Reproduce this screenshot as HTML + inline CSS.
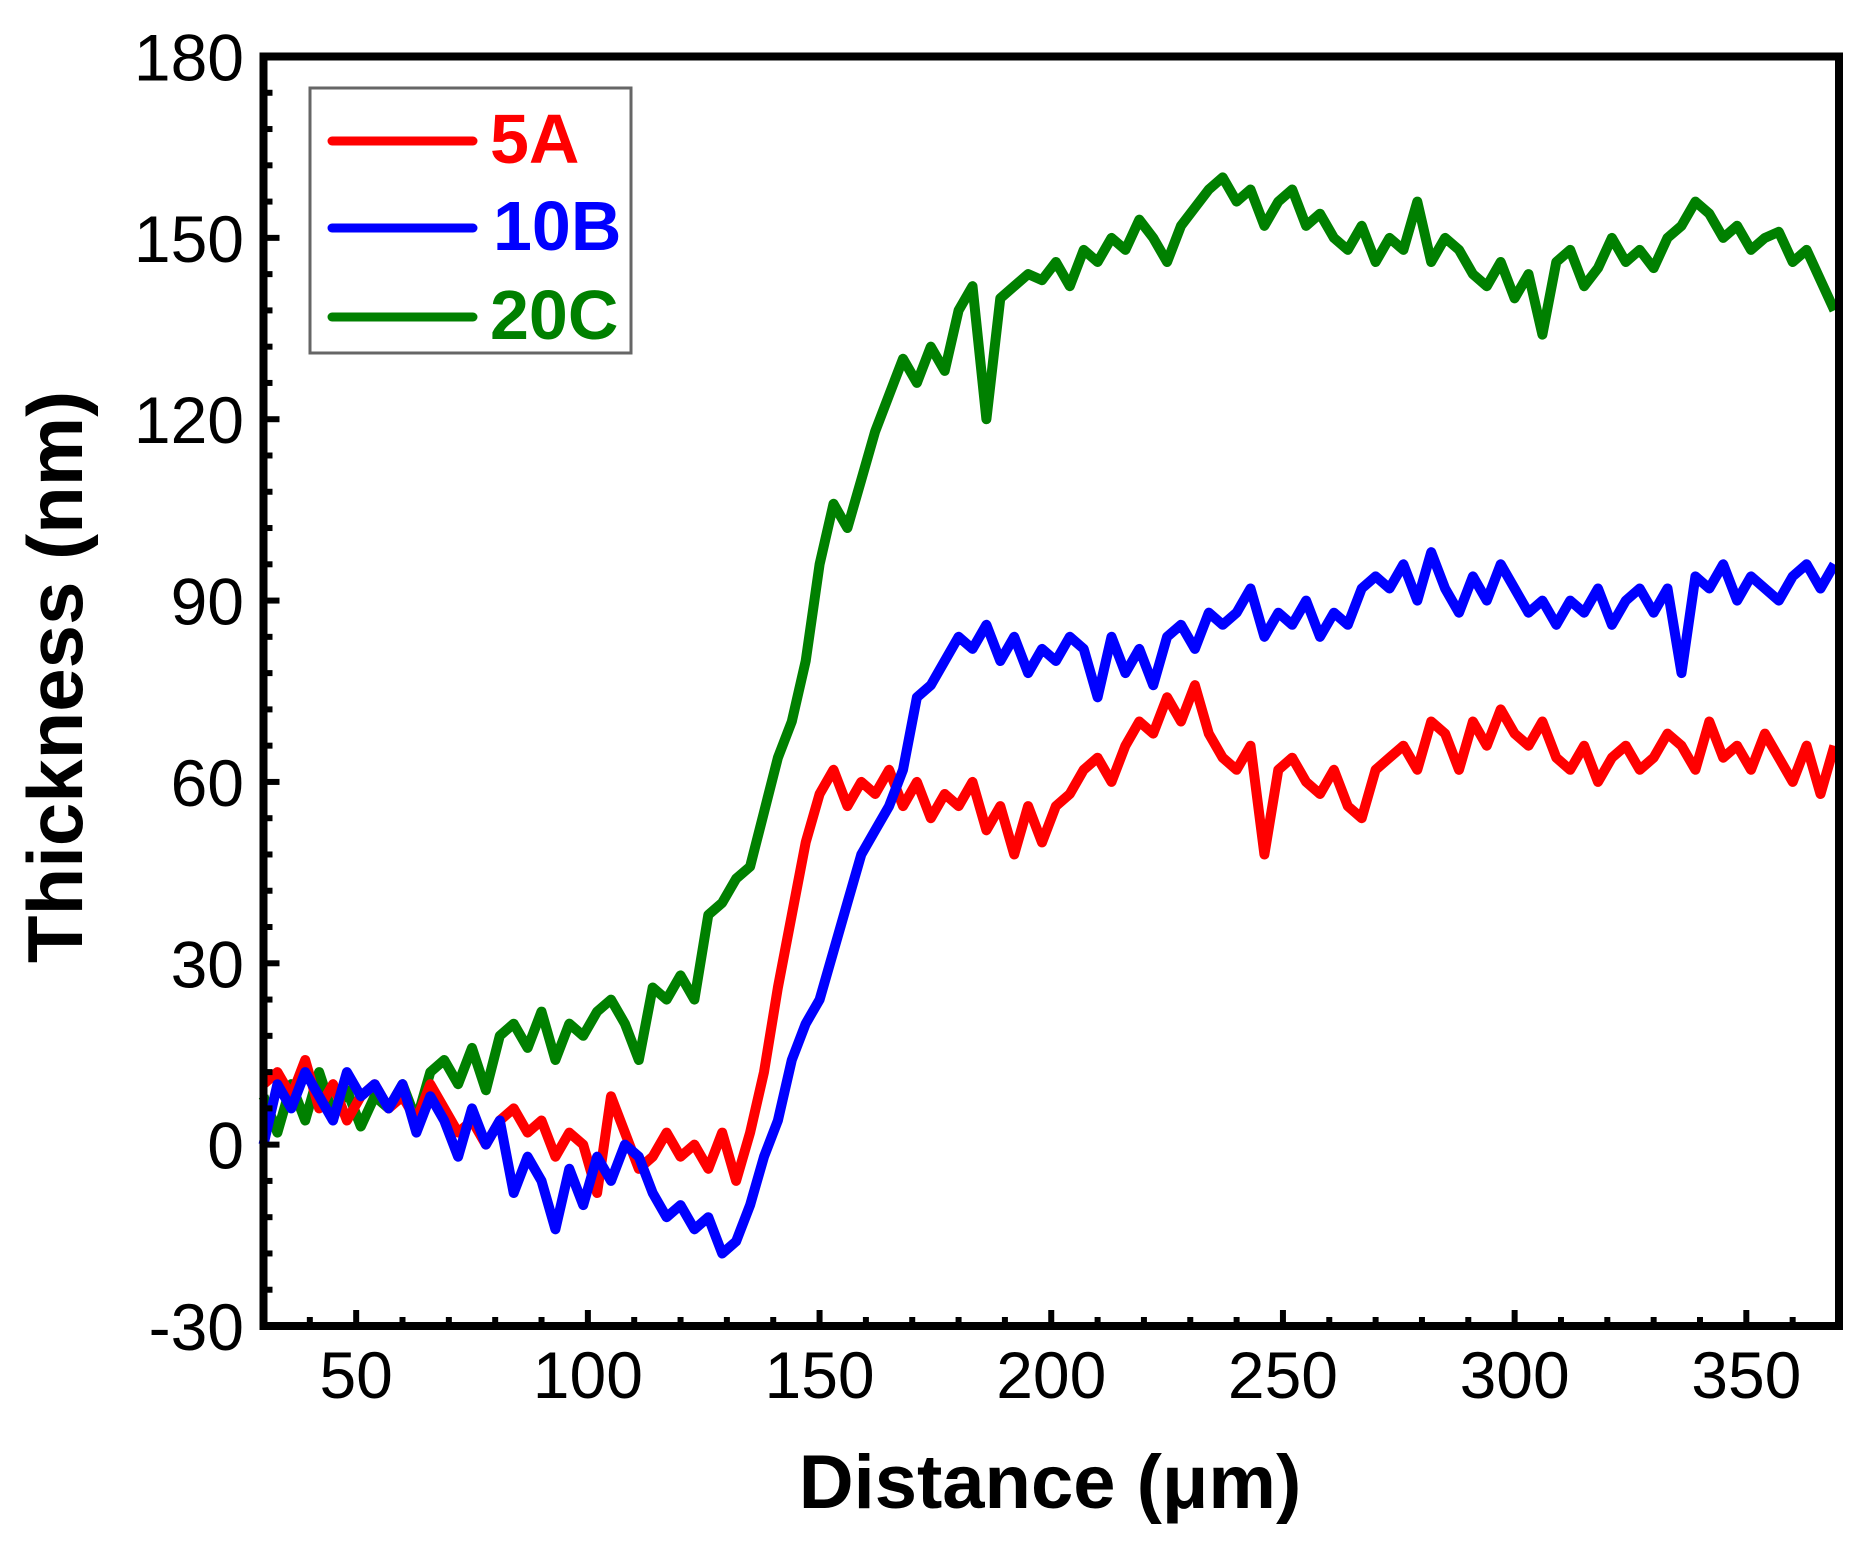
<!DOCTYPE html>
<html><head><meta charset="utf-8"><style>
html,body{margin:0;padding:0;background:#fff;}
svg{display:block;}
text{font-family:"Liberation Sans",Arial,sans-serif;}
</style></head><body>
<svg id="chart" width="1861" height="1550" viewBox="0 0 1861 1550" xmlns="http://www.w3.org/2000/svg">
<g id="series"></g>
<g id="axes"></g>
<text x="0" y="0" transform="translate(82,677) rotate(-90)" text-anchor="middle" font-size="78" font-weight="bold">Thickness (nm)</text>
<text x="1050" y="1508" text-anchor="middle" font-size="76" font-weight="bold">Distance (μm)</text>
<g>
<rect x="310" y="88" width="321" height="265" fill="#fff" stroke="#666" stroke-width="3"/>
<line x1="332" y1="141" x2="473" y2="141" stroke="#ff0000" stroke-width="9" stroke-linecap="round"/>
<text x="490" y="163" font-size="70" font-weight="bold" fill="#ff0000">5A</text>
<line x1="332" y1="228" x2="473" y2="228" stroke="#0000ff" stroke-width="9" stroke-linecap="round"/>
<text x="493" y="250" font-size="70" font-weight="bold" fill="#0000ff">10B</text>
<line x1="332" y1="317" x2="473" y2="317" stroke="#008000" stroke-width="9" stroke-linecap="round"/>
<text x="490" y="339" font-size="70" font-weight="bold" fill="#008000">20C</text>
</g>
</svg>
<script>
const xStart = 30, xStep = 3;
const series20C = [8,2,10,4,12,5,9,3,8,6, 10,4,12,14,10,16,9,18,20,16, 22,14,20,18,22,24,20,14,26,24, 28,24,38,40,44,46,55,64,70,80, 96,106,102,110,118,124,130,126,132,128, 138,142,120,140,142,144,143,146,142,148, 146,150,148,153,150,146,152,155,158,160, 156,158,152,156,158,152,154,150,148,152, 146,150,148,156,146,150,148,144,142,146, 140,144,134,146,148,142,145,150,146,148, 145,150,152,156,154,150,152,148,150,151, 146,148,143,138];
const series5A = [10,12,8,14,6,10,4,8,10,6, 8,4,10,6,2,4,0,4,6,2, 4,-2,2,0,-8,8,2,-4,-2,2, -2,0,-4,2,-6,2,12,26,38,50, 58,62,56,60,58,62,56,60,54,58, 56,60,52,56,48,56,50,56,58,62, 64,60,66,70,68,74,70,76,68,64, 62,66,48,62,64,60,58,62,56,54, 62,64,66,62,70,68,62,70,66,72, 68,66,70,64,62,66,60,64,66,62, 64,68,66,62,70,64,66,62,68,64, 60,66,58,66];
const series10B = [0,10,6,12,8,4,12,8,10,6, 10,2,8,4,-2,6,0,4,-8,-2, -6,-14,-4,-10,-2,-6,0,-2,-8,-12, -10,-14,-12,-18,-16,-10,-2,4,14,20, 24,32,40,48,52,56,62,74,76,80, 84,82,86,80,84,78,82,80,84,82, 74,84,78,82,76,84,86,82,88,86, 88,92,84,88,86,90,84,88,86,92, 94,92,96,90,98,92,88,94,90,96, 92,88,90,86,90,88,92,86,90,92, 88,92,78,94,92,96,90,94,92,90, 94,96,92,96];
const xTicks = [50,100,150,200,250,300,350];
const yTicks = [-30,0,30,60,90,120,150,180];

const X0=263.5, X1=1839, XMIN=30, XMAX=370;
const Y0=1326, Y1=56.5, YMIN=-30, YMAX=180;
const sx = v => X0 + (v-XMIN)/(XMAX-XMIN)*(X1-X0);
const sy = v => Y0 - (v-YMIN)/(YMAX-YMIN)*(Y0-Y1);
const NS="http://www.w3.org/2000/svg";
const sg=document.getElementById('series'), ag=document.getElementById('axes');

function drawSeries(vals,color,name){
  const p=document.createElementNS(NS,'path');
  let d='';
  vals.forEach((v,i)=>{const x=xStart+i*xStep; d+=(i?'L':'M')+sx(x).toFixed(1)+','+sy(v).toFixed(1);});
  p.setAttribute('d',d);
  p.setAttribute('fill','none');p.setAttribute('stroke',color);p.setAttribute('stroke-width','10');
  p.setAttribute('stroke-linejoin','round');
  
  
  sg.appendChild(p);
}
drawSeries(series20C,'#008000','series-20c-line');
drawSeries(series5A,'#ff0000','series-5a-line');
drawSeries(series10B,'#0000ff','series-10b-line');

function ln(x1,y1,x2,y2,w){const l=document.createElementNS(NS,'line');l.setAttribute('x1',x1);l.setAttribute('y1',y1);l.setAttribute('x2',x2);l.setAttribute('y2',y2);l.setAttribute('stroke','#000');l.setAttribute('stroke-width',w);ag.appendChild(l);return l;}
for(let v=30; v<=370; v+=10){
  const major = v%50===0;
  const t=ln(sx(v),Y0,sx(v),Y0-(major?16:9),6);
  
  
}
for(let v=-30; v<=180; v+=6){
  const major = v%30===0;
  const t=ln(X0,sy(v),X0+(major?16:9),sy(v),6);
  
  
}
const frame=document.createElementNS(NS,'rect');
frame.setAttribute('x',X0);frame.setAttribute('y',Y1);frame.setAttribute('width',X1-X0);frame.setAttribute('height',Y0-Y1);
frame.setAttribute('fill','none');frame.setAttribute('stroke','#000');frame.setAttribute('stroke-width','8');


ag.appendChild(frame);
xTicks.forEach(v=>{
  const t=document.createElementNS(NS,'text');
  t.setAttribute('x',sx(v));t.setAttribute('y',1398);t.setAttribute('text-anchor','middle');t.setAttribute('font-size','66');
  t.textContent=v;
  
  
  ag.appendChild(t);
});
yTicks.forEach(v=>{
  const t=document.createElementNS(NS,'text');
  t.setAttribute('x',244);t.setAttribute('y',sy(v)+24);t.setAttribute('text-anchor','end');t.setAttribute('font-size','66');
  t.textContent=v;
  
  
  ag.appendChild(t);
});
</script>
</body></html>
